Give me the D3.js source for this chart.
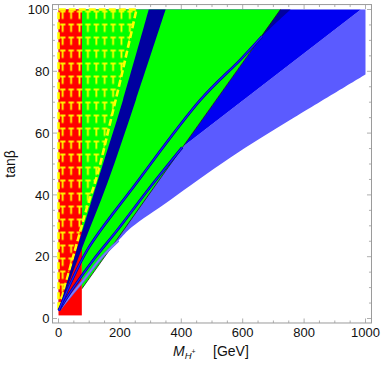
<!DOCTYPE html>
<html>
<head>
<meta charset="utf-8">
<script src="https://cdn.jsdelivr.net/npm/d3@7"></script>
<style>
  body { margin: 0; background: #fff; }
  svg text { font-family: "Liberation Sans", Arial, sans-serif; }
</style>
</head>
<body>
<div id="chart"></div>
<script>
// ---- data (M_H+ in GeV, tan beta) ----
const xTicks = [0, 200, 400, 600, 800, 1000];
const yTicks = [0, 20, 40, 60, 80, 100];

const redMass = [0, 76];
const redTanb = [1, 100];

// green region: lower edge line, filled up to tanb = 100 from M = 76
const greenEdge = [[76, 9.6], [723, 100]];

// light blue region lower boundary
const lowerCurve = [[1, 2.6], [40, 7.4], [76, 11.7], [137, 19.4], [195, 25.2], [238, 29.5],
  [363, 38.3], [559, 52], [754, 64.2], [1000, 79]];
const lowerCurveTop = [[1000, 100]];

// blue region lower boundary (line 2), P = [403, 55.4] on the green edge
const line2 = [[1, 2.6], [50, 10.2], [120, 19.8], [190, 28.4], [304, 43.2], [403, 55.4]];
const line2Upper = [[403, 55.4], [985, 100]];

// second blue contour (line 1)
const line1 = [[1, 2.6], [32, 9.8], [97, 22.7], [249, 43.2], [463, 70.8], [593, 83.8], [663, 91.3], [756, 100]];

// dark band edges
const bandLeft = [[1, 2.6], [60, 22.6], [126, 44], [210, 70.7], [294, 100]];
const bandRight = [[1, 2.6], [76, 22.6], [160, 44], [252, 70.7], [349, 100]];

// yellow hatched region
const yellowEdge = [[254, 100], [212, 81.5], [165, 62], [128, 47], [90, 35],
  [55, 22.6], [20, 10], [1, 3]];
const yellowLeft = [[0, 3], [0, 100]];

const W = 382, H = 369;

const svg = d3.select("#chart").append("svg")
  .attr("width", W).attr("height", H);

const x = d3.scaleLinear().domain([0, 1000]).range([58.5, 365.5]);
const y = d3.scaleLinear().domain([0, 100]).range([318.5, 9.5]);

const fx0 = x(-19.5), fx1 = x(1019.5), fy0 = y(101.6), fy1 = y(-1.45);

const line = d3.line().x(d => x(d[0])).y(d => y(d[1]));
const curve = d3.line().x(d => x(d[0])).y(d => y(d[1])).curve(d3.curveCatmullRom.alpha(0.5));
// join several pieces (each smooth or straight) into one closed path
const shape = (...parts) => parts.map((p, i) => {
  const s = (p.smooth ? curve : line)(p.pts);
  return i === 0 ? s : "L" + s.slice(1);
}).join("") + "Z";
const S = pts => ({ pts, smooth: true });
const L = pts => ({ pts, smooth: false });

const defs = svg.append("defs");
defs.append("clipPath").attr("id", "plotclip")
  .append("rect").attr("x", fx0).attr("y", fy0).attr("width", fx1 - fx0).attr("height", fy1 - fy0);

const pat = defs.append("pattern").attr("id", "mesh")
  .attr("patternUnits", "userSpaceOnUse")
  .attr("x", x(0) + 1).attr("y", y(100) + 1)
  .attr("width", 8.4).attr("height", 13);
pat.append("path").attr("d", "M0.5,1 H6").attr("stroke", "#ffff00").attr("stroke-width", 1.8);
pat.append("path").attr("d", "M3.2,1 V8.5").attr("stroke", "#ffff00").attr("stroke-width", 1.8);

const g = svg.append("g").attr("clip-path", "url(#plotclip)");

// light blue region
g.append("path")
  .attr("d", shape(S(lowerCurve), L(lowerCurveTop.concat([line2Upper[1], line2Upper[0]]))))
  .attr("fill", "#5b5bff");

// blue region
g.append("path")
  .attr("d", shape(L([line2Upper[0], line2Upper[1], greenEdge[1]])))
  .attr("fill", "#0000f2");

// dark region above line 1 (only visible right of the green edge)
g.append("path")
  .attr("d", shape(S(line1), L([[1, 100]])))
  .attr("fill", "#0000a0");

// green region
g.append("path")
  .attr("d", shape(L([greenEdge[0], greenEdge[1], [redMass[1], 100]])))
  .attr("fill", "#00ff00");
g.append("path")
  .attr("d", line(greenEdge))
  .attr("stroke", "#1a1a1a").attr("stroke-width", 0.8).attr("fill", "none");

// red region
g.append("rect")
  .attr("x", x(redMass[0])).attr("width", x(redMass[1]) - x(redMass[0]))
  .attr("y", y(redTanb[1])).attr("height", y(redTanb[0]) - y(redTanb[1]))
  .attr("fill", "#ff0000");

// yellow hatched region
g.append("path")
  .attr("d", shape(L(yellowLeft), S(yellowEdge)))
  .attr("fill", "url(#mesh)")
  .attr("stroke", "#ffff00").attr("stroke-width", 2.6)
  .attr("stroke-dasharray", "7,3");

// dark band
g.append("path")
  .attr("d", shape(S(bandLeft), S(bandRight.slice().reverse())))
  .attr("fill", "#0000a0");

// contour lines
const drawContour = (pts, outer, inner) => {
  g.append("path").attr("d", curve(pts)).attr("fill", "none")
    .attr("stroke", outer).attr("stroke-width", 2.6).attr("stroke-linejoin", "round");
  g.append("path").attr("d", curve(pts)).attr("fill", "none")
    .attr("stroke", inner).attr("stroke-width", 1.2).attr("stroke-linejoin", "round");
};
drawContour(lowerCurve.slice(0, 5), "#6262f4", "#8484ff");
drawContour(line2, "#0000a0", "#1e1eff");
drawContour(line1.slice(0, 7), "#0000a0", "#1e1eff");

// ---- frame and ticks ----
const frameCol = "#9a9a9a";
svg.append("rect")
  .attr("x", fx0).attr("y", fy0).attr("width", fx1 - fx0).attr("height", fy1 - fy0)
  .attr("fill", "none").attr("stroke", frameCol).attr("stroke-width", 1);

const xMinor = d3.range(0, 1001, 50);
const yMinor = d3.range(0, 101, 5);
const tk = svg.append("g").attr("stroke", frameCol).attr("stroke-width", 0.8);
xMinor.forEach(v => {
  const len = v % 200 === 0 ? 4.5 : 2.5;
  tk.append("line").attr("x1", x(v)).attr("x2", x(v)).attr("y1", fy1).attr("y2", fy1 - len);
  tk.append("line").attr("x1", x(v)).attr("x2", x(v)).attr("y1", fy0).attr("y2", fy0 + len);
});
yMinor.forEach(v => {
  const len = v % 20 === 0 ? 4.5 : 2.5;
  tk.append("line").attr("y1", y(v)).attr("y2", y(v)).attr("x1", fx0).attr("x2", fx0 + len);
  tk.append("line").attr("y1", y(v)).attr("y2", y(v)).attr("x1", fx1).attr("x2", fx1 - len);
});

svg.append("g").selectAll("text").data(xTicks).join("text")
  .attr("x", d => x(d)).attr("y", fy1 + 14.5)
  .attr("text-anchor", "middle").attr("font-size", 13).attr("fill", "#111")
  .text(d => d);

svg.append("g").selectAll("text").data(yTicks).join("text")
  .attr("x", fx0 - 3).attr("y", d => y(d) + 4.6)
  .attr("text-anchor", "end").attr("font-size", 13).attr("fill", "#111")
  .text(d => d);

// axis titles
svg.append("text")
  .attr("transform", `translate(15,${(y(0) + y(100)) / 2}) rotate(-90)`)
  .attr("text-anchor", "middle").attr("font-size", 14).attr("fill", "#111")
  .text("tanβ");

const xt = svg.append("text")
  .attr("x", 173).attr("y", 356)
  .attr("font-size", 14).attr("fill", "#111");
xt.append("tspan").attr("font-style", "italic").text("M");
xt.append("tspan").attr("font-style", "italic").attr("font-size", 9.5).attr("dy", 3).text("H");
xt.append("tspan").attr("font-size", 7).attr("dy", -5).text("+");
xt.append("tspan").attr("x", 213).attr("dy", 2).text("[GeV]");
</script>
</body>
</html>
